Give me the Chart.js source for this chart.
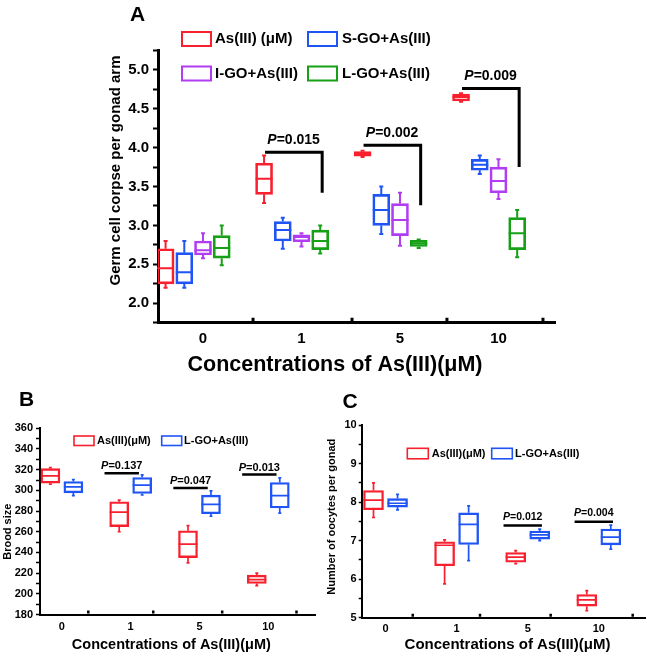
<!DOCTYPE html>
<html><head><meta charset="utf-8">
<script src="https://cdn.jsdelivr.net/npm/chart.js@4.4.1/dist/chart.umd.min.js"></script>
<style>
html,body{margin:0;padding:0;background:#fff;}
body{width:647px;height:658px;position:relative;overflow:hidden;}
canvas{position:absolute;}
</style></head><body>
<canvas id="cA" width="647" height="380" style="left:0;top:0"></canvas>
<canvas id="cB" width="320" height="278" style="left:0;top:380px"></canvas>
<canvas id="cC" width="327" height="278" style="left:320px;top:380px"></canvas>
<script>
// ---------------- DATA ----------------
const categories = ['0', '1', '5', '10'];
const seriesA = ['As(III) (μM)', 'S-GO+As(III)', 'I-GO+As(III)', 'L-GO+As(III)'];
// each entry: [min, q1, median, q3, max] for one concentration
const A_As  = [[2.20, 2.25, 2.45, 2.70, 2.80], [3.29, 3.40, 3.60, 3.80, 3.90], [3.88, 3.89, 3.92, 3.95, 3.96], [4.59, 4.60, 4.65, 4.69, 4.70]];
const A_SGO = [[2.20, 2.25, 2.40, 2.65, 2.80], [2.70, 2.80, 2.94, 3.05, 3.10], [2.89, 3.00, 3.20, 3.40, 3.50], [3.66, 3.71, 3.78, 3.85, 3.90]];
const A_IGO = [[2.58, 2.62, 2.68, 2.80, 2.90], [2.73, 2.79, 2.85, 2.88, 2.90], [2.74, 2.87, 3.07, 3.28, 3.42], [3.34, 3.42, 3.57, 3.75, 3.85]];
const A_LGO = [[2.49, 2.58, 2.71, 2.87, 3.00], [2.64, 2.69, 2.80, 2.94, 3.00], [2.71, 2.73, 2.77, 2.81, 2.82], [2.59, 2.69, 2.90, 3.10, 3.20]];
const A_pText = [null, '0.015', '0.002', '0.009'];
const A_pTop  = [null, 3.94, 4.03, 4.76];
const A_pEnd  = [null, 3.42, 3.26, 3.75];

const seriesBC = ['As(III)(μM)', 'L-GO+As(III)'];
const B_As  = [[306, 307, 314, 321, 322], [260, 265, 279, 289, 290.5], [230, 235, 248, 261, 266], [208, 210, 213.7, 218, 220]];
const B_LGO = [[295, 297.6, 303.4, 308.6, 310.5], [295.5, 297, 305, 312.4, 315], [275, 277.4, 286.4, 295.4, 299.6], [278, 283, 295, 307.6, 312]];
const B_pText  = [null, '0.137', '0.047', '0.013'];
const B_pLevel = [null, 316.6, 302.2, 315.3];

const C_As  = [[7.60, 7.80, 8.05, 8.30, 8.50], [5.88, 6.35, 6.88, 6.97, 7.02], [6.40, 6.44, 6.57, 6.69, 6.74], [5.18, 5.30, 5.46, 5.60, 5.70]];
const C_LGO = [[7.80, 7.87, 7.97, 8.09, 8.20], [6.48, 6.90, 7.42, 7.72, 7.90], [7.00, 7.04, 7.15, 7.25, 7.30], [6.78, 6.89, 7.09, 7.30, 7.40]];
const C_pText  = [null, null, '0.012', '0.004'];
const C_pLevel = [null, null, 7.39, 7.49];

const titleA_y = 'Germ cell corpse per gonad arm';
const titleB_y = 'Brood size';
const titleC_y = 'Number of oocytes per gonad';
const title_x  = 'Concentrations of As(III)(μM)';

// ---------------- STYLE ----------------
const FONT = "'Liberation Sans', Arial, Helvetica, sans-serif";
const RED = '#f8202e', BLUE = '#1f55f5', PURPLE = '#b23cf2', GREEN = '#16a016';

function boxDataset(label, stats, color, offset, thickness, lw) {
  return {
    label, stats,
    data: stats.map((s, i) => ({ x: i + offset, y: [s[1], s[3]] })),
    backgroundColor: 'rgba(255,255,255,0)',
    borderColor: color, borderWidth: lw, borderSkipped: false,
    barThickness: thickness, grouped: false
  };
}

function drawP(ctx, cx, cy, num, size) {
  const fi = `italic bold ${size}px ${FONT}`, fb = `bold ${size}px ${FONT}`;
  ctx.font = fi; const wP = ctx.measureText('P').width;
  ctx.font = fb; const rest = '=' + num; const wR = ctx.measureText(rest).width;
  const x0 = cx - (wP + wR) / 2;
  ctx.textAlign = 'left'; ctx.textBaseline = 'middle'; ctx.fillStyle = '#000';
  ctx.font = fi; ctx.fillText('P', x0, cy);
  ctx.font = fb; ctx.fillText(rest, x0 + wP, cy);
}

const decoPlugin = {
  id: 'deco',
  afterDraw(chart, args, o) {
    const ctx = chart.ctx, xs = chart.scales.x, ys = chart.scales.y;
    const px = v => xs.getPixelForValue(v), py = v => ys.getPixelForValue(v);
    ctx.save();
    // medians and whiskers
    chart.data.datasets.forEach((ds, di) => {
      const meta = chart.getDatasetMeta(di);
      meta.data.forEach((bar, i) => {
        const s = ds.stats[i];
        const cx = bar.x, w = bar.width;
        ctx.strokeStyle = ds.borderColor; ctx.lineWidth = ds.borderWidth; ctx.lineCap = 'butt';
        ctx.beginPath();
        ctx.moveTo(cx - w / 2, py(s[2])); ctx.lineTo(cx + w / 2, py(s[2]));
        ctx.moveTo(cx, py(s[3])); ctx.lineTo(cx, py(s[4]));
        ctx.moveTo(cx, py(s[1])); ctx.lineTo(cx, py(s[0]));
        ctx.moveTo(cx - o.cap, py(s[4])); ctx.lineTo(cx + o.cap, py(s[4]));
        ctx.moveTo(cx - o.cap, py(s[0])); ctx.lineTo(cx + o.cap, py(s[0]));
        ctx.stroke();
      });
    });
    // small axis marks
    ctx.strokeStyle = '#000'; ctx.lineWidth = o.markW;
    ctx.beginPath();
    o.marks.forEach(m => { const x = px(m); ctx.moveTo(x, ys.bottom - 1); ctx.lineTo(x, ys.bottom - 1 - o.markH); });
    ctx.stroke();
    // significance brackets
    o.brackets.forEach(b => {
      ctx.strokeStyle = '#000'; ctx.lineWidth = b.lw; ctx.lineCap = 'butt'; ctx.lineJoin = 'miter';
      const x1 = px(b.x1), x2 = px(b.x2), y1 = py(b.y);
      ctx.beginPath();
      ctx.moveTo(x1, y1); ctx.lineTo(x2, y1);
      if (b.yEnd != null) ctx.lineTo(x2, py(b.yEnd));
      ctx.stroke();
      drawP(ctx, (x1 + x2) / 2, y1 - b.dy, b.text, b.size);
    });
    // legend
    o.legend.forEach(it => {
      ctx.strokeStyle = it.color; ctx.lineWidth = it.lw;
      ctx.fillStyle = '#fff';
      ctx.fillRect(it.box[0], it.box[1], it.box[2], it.box[3]);
      ctx.strokeRect(it.box[0], it.box[1], it.box[2], it.box[3]);
      ctx.fillStyle = '#000'; ctx.font = `bold ${it.size}px ${FONT}`;
      ctx.textAlign = 'left'; ctx.textBaseline = 'middle';
      ctx.fillText(it.text, it.tx, it.ty);
    });
    // texts
    o.texts.forEach(t => {
      ctx.save();
      ctx.translate(t.x, t.y);
      if (t.rot) ctx.rotate(t.rot);
      ctx.fillStyle = '#000'; ctx.font = `bold ${t.size}px ${FONT}`;
      ctx.textAlign = 'center'; ctx.textBaseline = 'middle';
      ctx.fillText(t.text, 0, 0);
      ctx.restore();
    });
    ctx.restore();
  }
};

function makeChart(id, c) {
  const el = document.getElementById(id);
  return new Chart(el, {
    type: 'bar',
    data: { datasets: c.datasets },
    options: {
      responsive: false, animation: false, events: [],
      layout: { padding: { left: 0, top: c.area.top, right: el.width - c.area.right, bottom: el.height - c.area.bottom - c.xH } },
      plugins: { legend: { display: false }, tooltip: { enabled: false }, deco: c.deco },
      scales: {
        x: {
          type: 'linear', min: c.xmin, max: c.xmax, offset: false,
          afterFit: s => { s.height = c.xH; },
          afterBuildTicks: s => { s.ticks = categories.map((cat, i) => ({ value: i })); },
          ticks: { callback: v => categories[Math.round(v)], padding: c.xPad, color: '#000',
                   font: { family: FONT, size: c.tickFont, weight: 'bold' }, autoSkip: false, maxRotation: 0, minRotation: 0 },
          grid: { display: false, drawTicks: false },
          border: { display: true, color: '#000', width: c.axisW }
        },
        y: {
          type: 'linear', min: c.ymin, max: c.ymax,
          afterFit: s => { s.width = c.area.left; },
          ticks: { stepSize: c.ystep, autoSkip: false, padding: c.yPad, color: '#000',
                   font: { family: FONT, size: c.tickFont, weight: 'bold' }, callback: c.yfmt },
          grid: { drawOnChartArea: false, drawTicks: true, tickLength: c.tickLen, tickWidth: c.tickW, tickColor: '#000' },
          border: { display: true, color: '#000', width: c.axisW }
        }
      }
    },
    plugins: [decoPlugin]
  });
}

// ---------------- PANEL A ----------------
const offA = [-0.38, -0.19, 0, 0.19];
const colorsA = [RED, BLUE, PURPLE, GREEN];
const statsA = [A_As, A_SGO, A_IGO, A_LGO];
const bracketsA = [];
A_pText.forEach((t, i) => { if (t) bracketsA.push({ x1: i - 0.37, x2: i + 0.21, y: A_pTop[i], yEnd: A_pEnd[i], text: t, lw: 3, dy: 12, size: 14 }); });
makeChart('cA', {
  datasets: statsA.map((s, k) => boxDataset(seriesA[k], s, colorsA[k], offA[k], 17, 2)),
  area: { left: 158, top: 50.4, right: 555, bottom: 322.7 }, xH: 55,
  xmin: -0.457, xmax: 3.574, ymin: 1.75, ymax: 5.25, ystep: 0.25,
  yfmt: v => (Math.round(v * 4) % 2 === 0 ? (Math.round(v * 2) / 2).toFixed(1) : ''),
  tickFont: 15, xPad: 7, yPad: 4, tickLen: 5, tickW: 2, axisW: 3,
  deco: {
    cap: 2, marks: [0.508, 1.513, 2.477, 3.452], markH: 4, markW: 3,
    brackets: bracketsA,
    legend: [
      { text: seriesA[0], color: RED,    box: [182, 32, 29, 14],   tx: 215, ty: 39,   lw: 2, size: 15 },
      { text: seriesA[1], color: BLUE,   box: [308, 32, 29, 14],   tx: 342, ty: 39,   lw: 2, size: 15 },
      { text: seriesA[2], color: PURPLE, box: [182, 66.5, 29, 14], tx: 215, ty: 73.5, lw: 2, size: 15 },
      { text: seriesA[3], color: GREEN,  box: [308, 66.5, 29, 14], tx: 342, ty: 73.5, lw: 2, size: 15 }
    ],
    texts: [
      { text: 'A', x: 137.5, y: 15, size: 21 },
      { text: titleA_y, x: 116, y: 170.5, size: 15, rot: -Math.PI / 2 },
      { text: title_x, x: 335, y: 365, size: 21.5 }
    ]
  }
});

// ---------------- PANEL B ----------------
const bracketsB = [];
B_pText.forEach((t, i) => { if (t) bracketsB.push({ x1: i - 0.38, x2: i + 0.12, y: B_pLevel[i], yEnd: null, text: t, lw: 2.5, dy: 7, size: 11 }); });
makeChart('cB', {
  datasets: [boxDataset(seriesBC[0], B_As, RED, -0.167, 19, 1.7), boxDataset(seriesBC[1], B_LGO, BLUE, 0.167, 19, 1.7)],
  area: { left: 40, top: 48.3, right: 315, bottom: 234.5 }, xH: 40,
  xmin: -0.318, xmax: 3.679, ymin: 180, ymax: 360, ystep: 10,
  yfmt: v => (Math.round(v) % 20 === 0 ? String(Math.round(v)) : ''),
  tickFont: 11, xPad: 5.5, yPad: 3, tickLen: 4, tickW: 1.5, axisW: 2,
  deco: {
    cap: 1.5, marks: [0.384, 1.328, 2.33, 3.41], markH: 3, markW: 2.5,
    brackets: bracketsB,
    legend: [
      { text: seriesBC[0], color: RED,  box: [74, 56, 20, 9.5],    tx: 97,  ty: 60.8, lw: 1.6, size: 11 },
      { text: seriesBC[1], color: BLUE, box: [161.7, 56, 20, 9.5], tx: 184, ty: 60.8, lw: 1.6, size: 11 }
    ],
    texts: [
      { text: 'B', x: 26.5, y: 20.5, size: 21 },
      { text: titleB_y, x: 7.5, y: 151.7, size: 11, rot: -Math.PI / 2 },
      { text: title_x, x: 171.3, y: 265, size: 14.5 }
    ]
  }
});

// ---------------- PANEL C ----------------
const bracketsC = [];
C_pText.forEach((t, i) => { if (t) bracketsC.push({ x1: i - 0.34, x2: i + 0.2, y: C_pLevel[i], yEnd: null, text: t, lw: 2.5, dy: 8.5, size: 10.5 }); });
makeChart('cC', {
  datasets: [boxDataset(seriesBC[0], C_As, RED, -0.169, 20, 1.7), boxDataset(seriesBC[1], C_LGO, BLUE, 0.169, 20, 1.7)],
  area: { left: 41.7, top: 45, right: 325, bottom: 237.7 }, xH: 38,
  xmin: -0.335, xmax: 3.65, ymin: 5, ymax: 10, ystep: 0.5,
  yfmt: v => (Math.abs(v - Math.round(v)) < 1e-6 ? String(Math.round(v)) : ''),
  tickFont: 11, xPad: 4.7, yPad: 2, tickLen: 3, tickW: 1.5, axisW: 2,
  deco: {
    cap: 1.5, marks: [0.383, 1.329, 2.323, 3.477], markH: 3, markW: 2.5,
    brackets: bracketsC,
    legend: [
      { text: seriesBC[0], color: RED,  box: [87.3, 68.3, 21, 10.5],  tx: 111.7, ty: 73.7, lw: 1.6, size: 11 },
      { text: seriesBC[1], color: BLUE, box: [171.7, 68.3, 20.6, 10.5], tx: 195, ty: 73.7, lw: 1.6, size: 11 }
    ],
    texts: [
      { text: 'C', x: 30, y: 22.5, size: 21 },
      { text: titleC_y, x: 12, y: 136.7, size: 11, rot: -Math.PI / 2 },
      { text: title_x, x: 187.5, y: 265, size: 15 }
    ]
  }
});
</script>
</body></html>
